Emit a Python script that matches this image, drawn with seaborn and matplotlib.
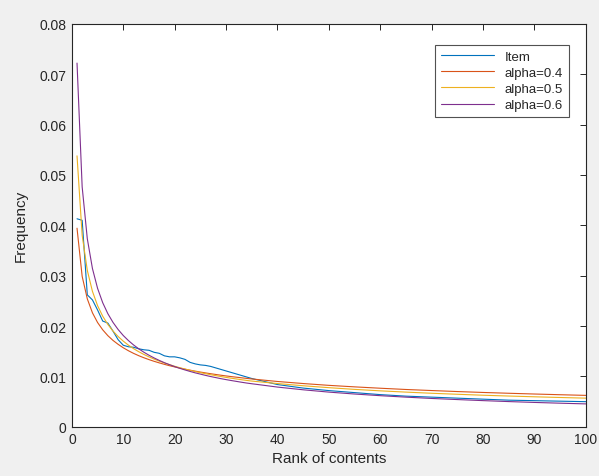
import pandas as pd
import seaborn as sns
import matplotlib.pyplot as plt

ranks = list(range(1, 36)) + [40, 45, 50, 55, 60, 65, 70, 75, 80, 85, 90, 95, 100]

item = [0.0413, 0.0410, 0.0262, 0.0252, 0.0232, 0.0210, 0.0206, 0.0190, 0.0173, 0.0162,
        0.0159, 0.0158, 0.0155, 0.0153, 0.0152, 0.0148, 0.0146, 0.0141, 0.0139, 0.0139,
        0.0137, 0.0134, 0.0128, 0.0125, 0.0123, 0.0122, 0.0120, 0.0117, 0.0114, 0.0111,
        0.0108, 0.0105, 0.0102, 0.0099, 0.0096,
        0.0084, 0.0077, 0.0072, 0.0068, 0.0064, 0.0061, 0.0059, 0.0057, 0.0055, 0.0053,
        0.0052, 0.0051, 0.0050]

alpha04 = [0.03943, 0.02988, 0.02541, 0.02264, 0.02071, 0.01926, 0.01810, 0.01716, 0.01638, 0.01570,
           0.01511, 0.01459, 0.01413, 0.01372, 0.01335, 0.01301, 0.01270, 0.01241, 0.01214, 0.01190,
           0.01167, 0.01145, 0.01125, 0.01106, 0.01088, 0.01071, 0.01055, 0.01040, 0.01025, 0.01011,
           0.00998, 0.00986, 0.00974, 0.00962, 0.00951,
           0.00901, 0.00860, 0.00824, 0.00794, 0.00767, 0.00742, 0.00721, 0.00701, 0.00683, 0.00667,
           0.00652, 0.00638, 0.00625]

alpha05 = [0.05379, 0.03804, 0.03106, 0.02690, 0.02406, 0.02196, 0.02033, 0.01902, 0.01793, 0.01701,
           0.01622, 0.01553, 0.01492, 0.01438, 0.01389, 0.01345, 0.01305, 0.01268, 0.01234, 0.01203,
           0.01174, 0.01147, 0.01122, 0.01098, 0.01076, 0.01055, 0.01035, 0.01017, 0.00999, 0.00982,
           0.00966, 0.00951, 0.00936, 0.00922, 0.00909,
           0.00860, 0.00816, 0.00778, 0.00744, 0.00715, 0.00690, 0.00667, 0.00647, 0.00628, 0.00612,
           0.00597, 0.00583, 0.00570]

alpha06 = [0.0722, 0.04764, 0.03735, 0.03143, 0.02749, 0.02464, 0.02246, 0.02074, 0.01932, 0.01813,
           0.01713, 0.01626, 0.01550, 0.01482, 0.01422, 0.01368, 0.01319, 0.01274, 0.01234, 0.01196,
           0.01162, 0.01130, 0.01100, 0.01072, 0.01047, 0.01022, 0.00999, 0.00978, 0.00957, 0.00938,
           0.00920, 0.00903, 0.00886, 0.00870, 0.00856,
           0.00790, 0.00736, 0.00690, 0.00652, 0.00619, 0.00590, 0.00564, 0.00542, 0.00521, 0.00502,
           0.00485, 0.00470, 0.00456]

series = ['Item', 'alpha=0.4', 'alpha=0.5', 'alpha=0.6']
colors = ['#0072BD', '#D95319', '#EDB120', '#7E2F8E']

df = pd.concat([
    pd.DataFrame({'Rank': ranks, 'Frequency': vals, 'Series': name})
    for name, vals in zip(series, [item, alpha04, alpha05, alpha06])
])

sns.set_style('white')
plt.rcParams['font.family'] = ['Liberation Sans', 'DejaVu Sans']

fig = plt.figure(figsize=(5.99, 4.77), dpi=100, facecolor='#F0F0F0')
ax = fig.add_axes([0.120, 0.103, 0.858, 0.845])
sns.lineplot(data=df, x='Rank', y='Frequency', hue='Series', hue_order=series,
             palette=colors, linewidth=0.8, ax=ax, errorbar=None)

ax.set_xlim(0, 100)
ax.set_ylim(0, 0.08)
ax.set_xticks(range(0, 101, 10))
ax.set_yticks([i / 100 for i in range(9)])
ax.set_yticklabels(['0'] + ['%.2f' % (i / 100) for i in range(1, 9)])
ax.tick_params(direction='in', top=True, right=True, length=4, width=0.7,
               labelsize=10, colors='#262626', pad=4)
for s in ax.spines.values():
    s.set_color('#262626')
    s.set_linewidth(0.8)
ax.set_xlabel('Rank of contents', fontsize=11, color='#262626', labelpad=3)
ax.set_ylabel('Frequency', fontsize=11, color='#262626', labelpad=8)

leg = ax.legend(loc='upper right', fontsize=9.5, frameon=True, fancybox=False,
                edgecolor='#262626', handlelength=4.0, borderpad=0.45,
                labelspacing=0.3, bbox_to_anchor=(0.98, 0.965))
leg.get_frame().set_linewidth(0.8)

fig.savefig('out.png', dpi=100, facecolor=fig.get_facecolor())
